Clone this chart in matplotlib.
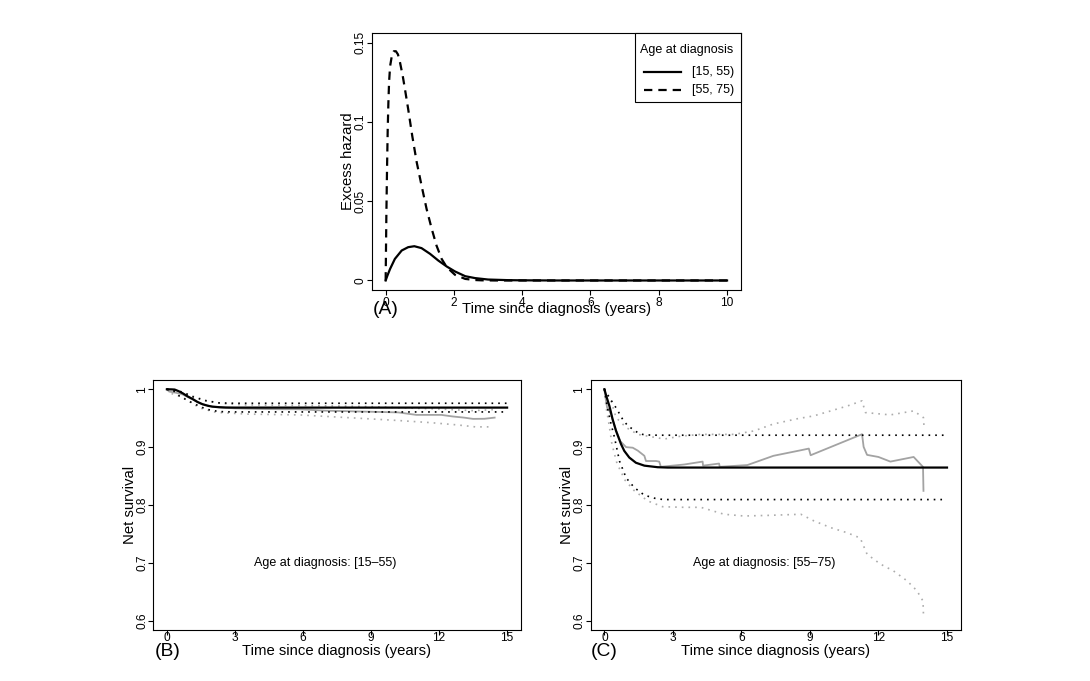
import matplotlib
matplotlib.use("Agg")
import matplotlib.pyplot as plt
from matplotlib.lines import Line2D
from matplotlib.patches import Rectangle

plt.rcParams['font.family'] = ['Liberation Sans', 'DejaVu Sans']

# ---------------- data: panel A (excess hazard) ----------------
haz_t_young = [0, 0.05, 0.13, 0.27, 0.47, 0.66, 0.84, 1.05, 1.3, 1.54, 1.79,
               2.03, 2.33, 2.62, 3.0, 3.6, 4.0, 5, 6, 7, 8, 9, 10]
haz_young = [0, 0.003, 0.0073, 0.0136, 0.0189, 0.021, 0.0216, 0.0204, 0.0168,
             0.0126, 0.0088, 0.0057, 0.0027, 0.0015, 0.0006, 0.0002, 0.0001,
             0, 0, 0, 0, 0, 0]
haz_t_old = [0, 0.02, 0.04, 0.06, 0.08, 0.10, 0.13, 0.18, 0.24, 0.30, 0.36,
             0.42, 0.50, 0.57, 0.66, 0.78, 0.91, 1.05, 1.2, 1.35, 1.49, 1.64,
             1.79, 2.03, 2.33, 2.6, 2.81, 3.2, 4, 10]
haz_old = [0, 0.04, 0.07, 0.095, 0.112, 0.125, 0.135, 0.1415, 0.1445, 0.1445,
           0.1425, 0.1375, 0.129, 0.120, 0.108, 0.091, 0.0745, 0.060, 0.045,
           0.0325, 0.022, 0.0136, 0.0084, 0.0036, 0.001, 0.0003, 0.0001, 0, 0, 0]
legend_title = "Age at diagnosis"
legend_labels = ["[15, 55)", "[55, 75)"]

# ---------------- data: panel B (age 15-55) ----------------
B_t_model = [0, 0.2, 0.34, 0.5, 0.7, 0.9, 1.14, 1.35, 1.58, 1.8, 2.0, 2.3, 2.6, 3.0, 15]
B_model = [1.0, 0.9998, 0.9995, 0.997, 0.993, 0.988, 0.983, 0.978, 0.974,
           0.9715, 0.970, 0.969, 0.9685, 0.9683, 0.9683]
B_t_up = [0, 0.3, 0.7, 1.14, 1.73, 2.3, 3.0, 15]
B_up = [1.0, 0.998, 0.995, 0.987, 0.980, 0.9764, 0.9758, 0.9758]
B_t_lo = [0, 0.3, 0.56, 1.14, 1.73, 2.3, 3.0, 15]
B_lo = [1.0, 0.997, 0.988, 0.976, 0.9655, 0.9614, 0.9608, 0.9608]
B_t_np = [0, 0.1, 0.4, 0.7, 1.1, 1.5, 2.0, 2.5, 3.0, 4.0, 5.0, 5.8, 7.0, 8.7,
          10.2, 11.0, 12.1, 12.6, 13.1, 13.5, 14.0, 14.45]
B_np = [1.0, 0.996, 0.994, 0.991, 0.983, 0.975, 0.970, 0.968, 0.967, 0.966,
        0.9655, 0.9655, 0.963, 0.9614, 0.960, 0.9557, 0.9557, 0.953, 0.951,
        0.9488, 0.949, 0.951]
B_t_np_up = [0, 0.5, 1.0, 1.7, 2.5, 3.5, 6, 9, 11, 12, 13.5, 14.45]
B_np_up = [1.0, 0.998, 0.990, 0.981, 0.975, 0.973, 0.972, 0.970, 0.967, 0.966,
           0.963, 0.965]
B_t_np_lo = [0, 0.1, 0.7, 1.43, 2.16, 3.6, 5.82, 8.74, 10.2, 11.6, 12.8, 13.6, 14.3]
B_np_lo = [1.0, 0.994, 0.986, 0.968, 0.960, 0.957, 0.9557, 0.9493, 0.946,
           0.9424, 0.9384, 0.935, 0.935]

# ---------------- data: panel C (age 55-75) ----------------
C_t_model = [0, 0.1, 0.22, 0.36, 0.51, 0.73, 0.87, 1.09, 1.38, 1.75, 2.33, 2.77, 15]
C_model = [1.0, 0.986, 0.971, 0.948, 0.928, 0.905, 0.8935, 0.882, 0.873,
           0.868, 0.8653, 0.8647, 0.8647]
C_t_up = [0, 0.26, 0.51, 0.8, 1.02, 1.24, 1.46, 1.67, 1.89, 2.3, 15]
C_up = [1.0, 0.983, 0.968, 0.948, 0.937, 0.931, 0.925, 0.922, 0.921, 0.9206, 0.9206]
C_t_lo = [0, 0.15, 0.29, 0.44, 0.66, 0.95, 1.31, 1.75, 2.26, 2.6, 15]
C_lo = [1.0, 0.965, 0.940, 0.917, 0.876, 0.847, 0.830, 0.817, 0.811, 0.8094, 0.8094]
C_t_np = [0, 0.05, 0.12, 0.22, 0.3, 0.5, 0.7, 0.95, 1.24, 1.46, 1.75, 1.82,
          2.26, 2.4, 2.47, 3.5, 4.3, 4.32, 5.02, 5.05, 6.26, 7.4, 8.6, 8.95,
          9.03, 11.28, 11.35, 11.5, 12.0, 12.52, 13.54, 13.95, 13.97]
C_np = [1.0, 0.985, 0.968, 0.963, 0.955, 0.930, 0.910, 0.900, 0.899, 0.894,
        0.885, 0.876, 0.876, 0.875, 0.866, 0.870, 0.875, 0.868, 0.8716, 0.866,
        0.869, 0.885, 0.8946, 0.8975, 0.886, 0.9223, 0.9004, 0.8866, 0.883,
        0.875, 0.883, 0.8658, 0.8244]
C_t_np_up = [0, 0.1, 0.29, 0.51, 0.95, 1.46, 2.04, 2.62, 3.35, 4.22, 5.68,
             6.55, 7.4, 8.44, 9.17, 10.63, 11.28, 11.43, 12.52, 13.54, 13.97, 14.0]
C_np_up = [1.0, 0.99, 0.98, 0.951, 0.934, 0.922, 0.918, 0.914, 0.919, 0.922,
           0.922, 0.928, 0.940, 0.949, 0.954, 0.971, 0.980, 0.9597, 0.9557,
           0.9626, 0.951, 0.931]
C_t_np_lo = [0, 0.07, 0.2, 0.33, 0.55, 0.9, 1.3, 1.9, 2.55, 3.49, 4.22, 5.24,
             6.11, 7.13, 8.6, 9.17, 9.9, 10.63, 11.2, 11.5, 12.08, 12.66, 13.25,
             13.68, 13.95, 13.97]
C_np_lo = [1.0, 0.97, 0.94, 0.905, 0.872, 0.843, 0.825, 0.807, 0.797, 0.796,
           0.796, 0.784, 0.781, 0.782, 0.784, 0.7726, 0.761, 0.752, 0.743,
           0.715, 0.698, 0.686, 0.669, 0.652, 0.634, 0.609]

xlabel = "Time since diagnosis (years)"
A_xticks = [0, 2, 4, 6, 8, 10]
A_yticks = [0, 0.05, 0.1, 0.15]
A_yticklabels = ["0", "0.05", "0.1", "0.15"]
S_xticks = [0, 3, 6, 9, 12, 15]
S_yticks = [0.6, 0.7, 0.8, 0.9, 1.0]
S_yticklabels = ["0.6", "0.7", "0.8", "0.9", "1"]

# ---------------- figure ----------------
W, H = 1090, 681
fig = plt.figure(figsize=(W / 100, H / 100), dpi=100)

def box(l, t, r, b):
    return [l / W, 1 - b / H, (r - l) / W, (b - t) / H]

axA = fig.add_axes(box(372, 33, 740.7, 290))
axB = fig.add_axes(box(153.3, 380, 520.7, 630))
axC = fig.add_axes(box(590.7, 380, 960.7, 630))

TICK_FS = 8.6
LAB_FS = 10.7
DASH = (3.75, 2.7)

def style(ax, xpad, ylab_x, xlab_y, tag, tag_x, tag_y):
    for s in ax.spines.values():
        s.set_linewidth(0.8)
        s.set_color('black')
    ax.tick_params(direction='out', length=3.6, width=0.8, labelsize=TICK_FS)
    ax.tick_params(axis='x', pad=xpad)
    ax.tick_params(axis='y', pad=0.2)
    for lab in ax.get_yticklabels():
        lab.set_rotation(90)
        lab.set_va('center')
        lab.set_ha('right')
    ax.xaxis.label.set_fontsize(LAB_FS)
    ax.yaxis.label.set_fontsize(LAB_FS)
    ax.xaxis.set_label_coords(0.5, xlab_y)
    ax.xaxis.label.set_va('center')
    ax.yaxis.set_label_coords(ylab_x, 0.5)
    ax.yaxis.label.set_va('center')
    ax.text(tag_x, tag_y, tag, transform=ax.transAxes, fontsize=13.9,
            ha='center', va='center')

# Panel A
axA.plot(haz_t_young, haz_young, color='black', lw=1.6, solid_joinstyle='round')
axA.plot(haz_t_old, haz_old, color='black', lw=1.6, dashes=DASH)
axA.set_xlim(-0.4, 10.4)
axA.set_ylim(-0.006, 0.156)
axA.set_xticks(A_xticks)
axA.set_yticks(A_yticks)
axA.set_yticklabels(A_yticklabels)
axA.set_xlabel(xlabel)
axA.set_ylabel("Excess hazard")
style(axA, 1.3, -0.065, -0.075, "(A)", 0.0366, -0.074)

# legend box drawn in axes coordinates
tA = axA.transAxes
axA.add_patch(Rectangle((0.7133, 0.7303), 1 - 0.7133, 1 - 0.7303, transform=tA,
                        facecolor='white', edgecolor='black', lw=0.8,
                        zorder=5, clip_on=False))
axA.text(0.8535, 0.934, legend_title, transform=tA, fontsize=9,
         ha='center', va='center', zorder=6)
for yy, lab, ls in [(0.8494, legend_labels[0], None), (0.7782, legend_labels[1], DASH)]:
    ln = Line2D([0.7377, 0.8373], [yy, yy], transform=tA, color='black', lw=1.6,
                zorder=6)
    if ls is not None:
        ln.set_dashes(ls)
    axA.add_line(ln)
    axA.text(0.8671, yy, lab, transform=tA, fontsize=9, ha='left', va='center',
             zorder=6)

# Survival panels
DOT = (1.0, 3.0)
GREY = '#a3a3a3'
GREY_D = '#acacac'

def surv(ax, t_np_lo, np_lo, t_np_up, np_up, t_np, npv, t_lo, lo, t_up, up,
         t_m, m, label):
    ax.plot(t_np_lo, np_lo, color=GREY_D, lw=1.2, dashes=DOT)
    ax.plot(t_np_up, np_up, color=GREY_D, lw=1.2, dashes=DOT)
    ax.plot(t_np, npv, color=GREY, lw=1.3)
    ax.plot(t_lo, lo, color='black', lw=1.2, dashes=DOT)
    ax.plot(t_up, up, color='black', lw=1.2, dashes=DOT)
    ax.plot(t_m, m, color='black', lw=1.6)
    ax.set_xlim(-0.6, 15.6)
    ax.set_ylim(0.584, 1.016)
    ax.set_xticks(S_xticks)
    ax.set_yticks(S_yticks)
    ax.set_yticklabels(S_yticklabels)
    ax.set_xlabel(xlabel)
    ax.set_ylabel("Net survival")
    ax.text(7, 0.70, label, fontsize=9, ha='center', va='center')

surv(axB, B_t_np_lo, B_np_lo, B_t_np_up, B_np_up, B_t_np, B_np, B_t_lo, B_lo,
     B_t_up, B_up, B_t_model, B_model, "Age at diagnosis: [15\u201355)")
surv(axC, C_t_np_lo, C_np_lo, C_t_np_up, C_np_up, C_t_np, C_np, C_t_lo, C_lo,
     C_t_up, C_up, C_t_model, C_model, "Age at diagnosis: [55\u201375)")
style(axB, -1.9, -0.0634, -0.083, "(B)", 0.040, -0.085)
style(axC, -1.9, -0.0649, -0.083, "(C)", 0.036, -0.085)

fig.savefig("out.png", dpi=100)
